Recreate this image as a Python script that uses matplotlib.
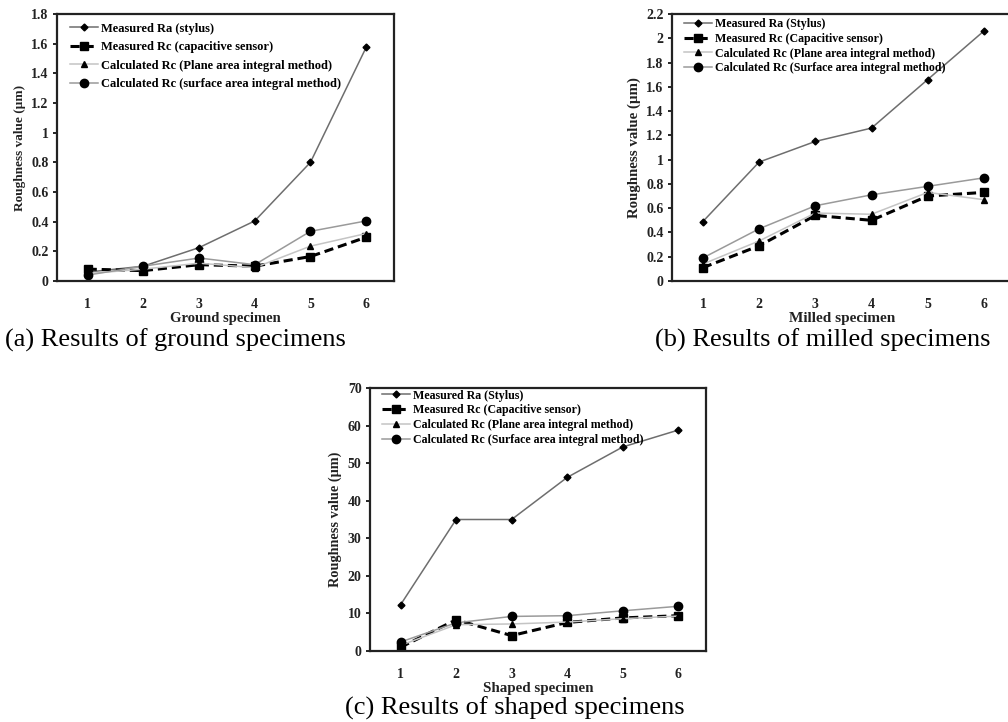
import matplotlib.pyplot as plt

plt.rcParams['font.family'] = ['Liberation Serif', 'DejaVu Serif']

specimens = [1, 2, 3, 4, 5, 6]

# (a) ground specimens
ground_ra = [0.06, 0.10, 0.225, 0.405, 0.80, 1.575]
ground_rc_cap = [0.08, 0.07, 0.11, 0.10, 0.165, 0.295]
ground_rc_plane = [0.05, 0.08, 0.12, 0.09, 0.235, 0.32]
ground_rc_surf = [0.04, 0.10, 0.155, 0.11, 0.335, 0.405]

# (b) milled specimens
milled_ra = [0.49, 0.98, 1.15, 1.26, 1.66, 2.06]
milled_rc_cap = [0.11, 0.29, 0.54, 0.50, 0.70, 0.73]
milled_rc_plane = [0.14, 0.33, 0.56, 0.55, 0.73, 0.67]
milled_rc_surf = [0.19, 0.43, 0.62, 0.71, 0.78, 0.85]

# (c) shaped specimens
shaped_ra = [12.3, 35.0, 35.0, 46.2, 54.3, 58.8]
shaped_rc_cap = [1.0, 8.3, 4.1, 7.6, 8.8, 9.4]
shaped_rc_plane = [1.5, 7.0, 7.2, 7.7, 8.6, 9.3]
shaped_rc_surf = [2.4, 7.5, 9.2, 9.4, 10.7, 11.9]

labels_a = ['Measured Ra (stylus)', 'Measured Rc (capacitive sensor)',
            'Calculated Rc (Plane area integral method)',
            'Calculated Rc (surface area integral method)']
labels_bc = ['Measured Ra (Stylus)', 'Measured Rc (Capacitive sensor)',
             'Calculated Rc (Plane area integral method)',
             'Calculated Rc (Surface area integral method)']


def draw(ax, series, labels, ymax, ystep, xlabel, leg, ylab_fs, xlab_fs):
    ra, cap, plane, surf = series
    ax.plot(specimens, ra, color='#6e6e6e', lw=1.1, marker='D', ms=3.5,
            mfc='black', mec='black', label=labels[0])
    ax.plot(specimens, cap, color='black', lw=2.2, ls=(0, (3, 1.6)), marker='s', ms=6,
            mfc='black', mec='black', label=labels[1])
    ax.plot(specimens, plane, color='#c4c4c4', lw=1.1, marker='^', ms=5,
            mfc='black', mec='black', label=labels[2])
    ax.plot(specimens, surf, color='#9a9a9a', lw=1.1, marker='o', ms=6,
            mfc='black', mec='black', label=labels[3])
    ax.set_xlim(0.45, 6.5)
    ax.set_ylim(0, ymax)
    ticks = [round(i * ystep, 3) for i in range(int(round(ymax / ystep)) + 1)]
    ax.set_yticks(ticks)
    ax.set_yticklabels([('%g' % t) for t in ticks], fontweight='bold', fontsize=10, color='#222222')
    ax.set_xticks(specimens)
    ax.set_xticklabels([str(s) for s in specimens], fontweight='bold', fontsize=10, color='#222222')
    ax.tick_params(axis='x', length=0, pad=12)
    ax.tick_params(axis='y', length=3, width=1.2, pad=3, direction='out')
    for side in ax.spines:
        ax.spines[side].set_linewidth(1.6)
        ax.spines[side].set_color('#222222')
    ax.set_xlabel(xlabel, fontweight='bold', fontsize=xlab_fs, labelpad=1, color='#222222')
    ax.set_ylabel('Roughness value (\u00b5m)', fontweight='bold', fontsize=ylab_fs, color='#222222')
    fs, space, hx, hy = leg
    ax.legend(loc='upper left', bbox_to_anchor=(hx, hy), frameon=False,
              handlelength=28 / (fs * 100 / 72), labelspacing=space, borderaxespad=0,
              borderpad=0, handletextpad=0.25, prop={'weight': 'bold', 'size': fs})


fig = plt.figure(figsize=(10.08, 7.22), dpi=100)

ax_a = fig.add_axes([57 / 1008, 1 - 281 / 722, 337 / 1008, 267 / 722])
draw(ax_a, (ground_ra, ground_rc_cap, ground_rc_plane, ground_rc_surf), labels_a,
     1.8, 0.2, 'Ground specimen', (9, 0.52, 0.0386, 0.968), 9.5, 10.5)

ax_b = fig.add_axes([672 / 1008, 1 - 281 / 722, 340 / 1008, 267 / 722])
draw(ax_b, (milled_ra, milled_rc_cap, milled_rc_plane, milled_rc_surf), labels_bc,
     2.2, 0.2, 'Milled specimen', (8.6, 0.22, 0.035, 0.984), 10.7, 11)

ax_c = fig.add_axes([370 / 1008, 1 - 651 / 722, 336 / 1008, 263 / 722])
draw(ax_c, (shaped_ra, shaped_rc_cap, shaped_rc_plane, shaped_rc_surf), labels_bc,
     70, 10, 'Shaped specimen', (8.6, 0.24, 0.0357, 0.994), 10.3, 10.8)

fig.text(5 / 1008, 1 - 340 / 722, '(a) Results of ground specimens', fontsize=19,
         ha='left', va='center')
fig.text(655 / 1008, 1 - 340 / 722, '(b) Results of milled specimens', fontsize=19,
         ha='left', va='center')
fig.text(515 / 1008, 1 - 708 / 722, '(c) Results of shaped specimens', fontsize=19,
         ha='center', va='center')

fig.savefig('out.png', dpi=100)
